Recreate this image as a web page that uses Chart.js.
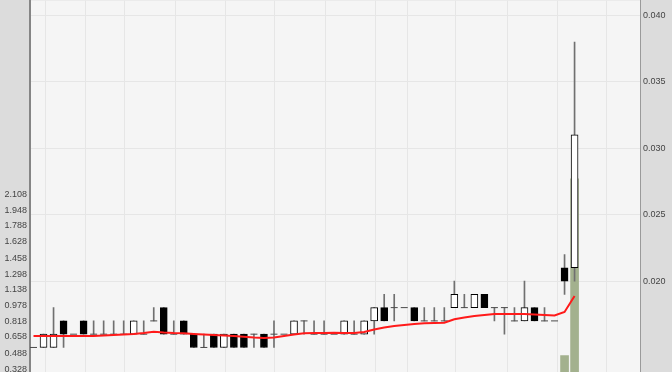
<!DOCTYPE html>
<html>
<head>
<meta charset="utf-8">
<script src="https://cdn.jsdelivr.net/npm/chart.js@4.4.1/dist/chart.umd.min.js"></script>
<style>
  html, body { margin: 0; padding: 0; background: #dcdcdc; overflow: hidden; }
  #wrap { width: 672px; height: 372px; position: relative; overflow: hidden; }
  #chartCandle { position: absolute; left: 0; top: -8px; }
</style>
</head>
<body>
<div id="wrap"><canvas id="chartCandle" width="672" height="389"></canvas></div>
<script>
// daily candles, price in the right axis
const opens  = [0.015,0.015,0.015,0.017,0.016,0.017,0.016,0.016,0.016,0.016,0.016,0.016,0.017,0.018,0.016,0.017,0.016,0.015,0.016,0.015,
                0.016,0.016,0.016,0.016,0.016,0.016,0.016,0.017,0.016,0.016,0.016,0.016,0.016,0.016,0.017,0.018,0.018,0.018,0.018,0.017,
                0.017,0.017,0.018,0.018,0.018,0.019,0.018,0.018,0.017,0.017,0.018,0.017,0.017,0.021,0.021];
const highs  = [0.015,0.016,0.018,0.017,0.016,0.017,0.017,0.017,0.017,0.017,0.017,0.017,0.018,0.018,0.017,0.017,0.016,0.016,0.016,0.016,
                0.016,0.016,0.016,0.016,0.017,0.016,0.017,0.017,0.017,0.017,0.016,0.017,0.017,0.017,0.018,0.019,0.019,0.018,0.018,0.018,
                0.018,0.018,0.020,0.019,0.019,0.019,0.018,0.018,0.018,0.020,0.018,0.018,0.017,0.022,0.038];
const lows   = [0.015,0.015,0.015,0.015,0.016,0.016,0.016,0.016,0.016,0.016,0.016,0.016,0.017,0.016,0.016,0.016,0.015,0.015,0.015,0.015,
                0.015,0.015,0.015,0.015,0.015,0.016,0.016,0.016,0.016,0.016,0.016,0.016,0.016,0.016,0.016,0.017,0.017,0.018,0.017,0.017,
                0.017,0.017,0.018,0.018,0.018,0.018,0.017,0.016,0.017,0.017,0.017,0.017,0.017,0.019,0.020];
const closes = [0.015,0.016,0.016,0.016,0.016,0.016,0.016,0.016,0.016,0.016,0.017,0.016,0.017,0.016,0.016,0.016,0.015,0.015,0.015,0.016,
                0.015,0.015,0.016,0.015,0.016,0.016,0.017,0.017,0.016,0.016,0.016,0.017,0.016,0.017,0.018,0.017,0.018,0.018,0.017,0.017,
                0.017,0.017,0.019,0.018,0.019,0.018,0.018,0.018,0.017,0.018,0.017,0.017,0.017,0.020,0.031];
const movingAvg = [0.01586,0.01586,0.01586,0.01586,0.01586,0.01586,0.01586,0.01590,0.01594,0.01598,0.01602,0.01609,0.01619,0.01613,0.01609,
                   0.01607,0.01602,0.01598,0.01594,0.01590,0.01586,0.01581,0.01575,0.01571,0.01575,0.01586,0.01598,0.01607,0.01609,0.01609,
                   0.01611,0.01609,0.01609,0.01617,0.01635,0.01650,0.01662,0.01669,0.01677,0.01682,0.01684,0.01686,0.01712,0.01726,0.01737,
                   0.01744,0.01752,0.01752,0.01752,0.01752,0.01748,0.01744,0.01741,0.01767,0.01887];
// volume (left axis), only the last two reach into view
const volumes = [null,null,null,null,null,null,null,null,null,null,null,null,null,null,null,null,null,null,null,null,
                 null,null,null,null,null,null,null,null,null,null,null,null,null,null,null,null,null,null,null,null,
                 null,null,null,null,null,null,null,null,null,null,null,null,null,0.468,2.268];

const priceTicks = [0.020, 0.025, 0.030, 0.035, 0.040];
const volumeTicks = [0.328, 0.488, 0.658, 0.818, 0.978, 1.138, 1.298, 1.458, 1.628, 1.788, 1.948, 2.108];
const weekLines = [2.15, 6.15, 10.05, 15.2, 20.2, 25.1, 30.1, 35.1, 38.3, 43.1, 48.3, 53.3, 58.2];

const idx = opens.map((o, i) => i + 1);

const wickData = idx.map((x, i) => ({ x: x, y: highs[i] > lows[i] ? [lows[i], highs[i]] : null }));
const bodyData = idx.map((x, i) => ({ x: x, y: opens[i] !== closes[i] ? [opens[i], closes[i]] : null }));
const dojiData = idx.map((x, i) => ({ x: x, y: opens[i] === closes[i] ? opens[i] : null }));
const bodyColors = idx.map((x, i) => closes[i] > opens[i] ? '#ffffff' : '#000000');
const maData = idx.map((x, i) => ({ x: x, y: movingAvg[i] }));
const volData = idx.map((x, i) => ({ x: x, y: volumes[i] }));

const tickFont = { family: 'Liberation Sans', size: 9 };

const plotBackground = {
    id: 'plotBackground',
    beforeDraw(chart) {
        const a = chart.chartArea;
        const ctx = chart.ctx;
        ctx.save();
        ctx.fillStyle = '#f5f5f5';
        ctx.fillRect(a.left, a.top, a.right - a.left, a.bottom - a.top);
        ctx.restore();
    }
};

const configCandle = {
    data: {
        datasets: [
            {
                type: 'line', label: 'MA', data: maData, yAxisID: 'price',
                borderColor: '#ff1a1a', borderWidth: 2, pointRadius: 0, tension: 0, order: 0
            },
            {
                type: 'line', label: 'doji', data: dojiData, yAxisID: 'price', showLine: false,
                pointStyle: 'line', pointRadius: 3.5, pointBorderWidth: 1, pointBorderColor: '#4a4a4a', order: 1
            },
            {
                type: 'bar', label: 'body', data: bodyData, yAxisID: 'price', grouped: false,
                backgroundColor: bodyColors, borderColor: '#000000', borderWidth: 1, borderSkipped: false,
                barPercentage: 1, categoryPercentage: 1, maxBarThickness: 7, order: 2
            },
            {
                type: 'bar', label: 'wick', data: wickData, yAxisID: 'price', grouped: false,
                backgroundColor: '#707070', barPercentage: 1, categoryPercentage: 1, maxBarThickness: 1, order: 3
            },
            {
                type: 'bar', label: 'volume', data: volData, yAxisID: 'volume', grouped: false,
                backgroundColor: '#a3b18e', barPercentage: 1, categoryPercentage: 1, maxBarThickness: 8, order: 4
            }
        ]
    },
    options: {
        animation: false,
        responsive: false,
        layout: { padding: 0 },
        plugins: { legend: { display: false }, tooltip: { enabled: false } },
        scales: {
            x: {
                type: 'linear', min: 0.65, max: 61.53, offset: false,
                afterBuildTicks: (s) => { s.ticks = weekLines.map(v => ({ value: v })); },
                afterFit: (s) => { s.height = 0; },
                ticks: { display: false },
                grid: { color: '#e6e6e6', drawTicks: false, offset: false },
                border: { display: false }
            },
            volume: {
                type: 'linear', position: 'left', min: 0.294, max: 4.085,
                afterBuildTicks: (s) => { s.ticks = volumeTicks.map(v => ({ value: v })); },
                afterFit: (s) => { s.width = 30; },
                ticks: { color: '#444444', font: tickFont, padding: 3, callback: (v) => v.toFixed(3) },
                grid: { display: false, drawTicks: false },
                border: { color: '#858585', width: 2 }
            },
            price: {
                type: 'linear', position: 'right', min: 0.013107, max: 0.04113,
                afterBuildTicks: (s) => { s.ticks = priceTicks.map(v => ({ value: v })); },
                afterFit: (s) => { s.width = 32; },
                ticks: { color: '#444444', font: tickFont, padding: 3, callback: (v) => v.toFixed(3) },
                grid: { color: '#e6e6e6', drawTicks: false },
                border: { color: '#9a9a9a', width: 1 }
            }
        }
    },
    plugins: [plotBackground]
};

var chartCandle = new Chart(document.getElementById('chartCandle'), configCandle);
</script>
</body>
</html>
